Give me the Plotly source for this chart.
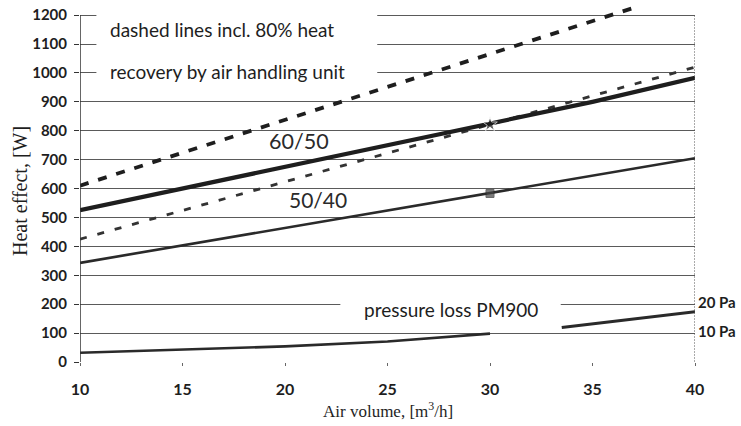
import plotly.graph_objects as go

# ---- data ----
air_volume = [10, 15, 20, 25, 30, 35, 40]
solid_6050 = [525, 600, 675, 750, 822, 900, 983]
solid_5040 = [343, 403, 463, 523, 583, 644, 705]

dash_6050_x = [10, 37]
dash_6050_y = [610, 1225]
dash_5040_x = [10, 40]
dash_5040_y = [425, 1020]

press_10pa_x = [10, 15, 20, 25, 30]
press_10pa_y = [32, 42, 54, 71, 98]
press_20pa_x = [33.5, 40]
press_20pa_y = [119, 174]

x_ticks = [10, 15, 20, 25, 30, 35, 40]
y_ticks = list(range(0, 1201, 100))

INK = "#1e1e1e"
GRID = "#5a5a5a"
SANS = "Lato, 'Open Sans', sans-serif"
SERIF = "'Liberation Serif', 'DejaVu Serif', serif"

fig = go.Figure()

def mark_sizes(xs, at, size):
    return [size if x == at else 0 for x in xs]

fig.add_trace(go.Scatter(x=dash_6050_x, y=dash_6050_y, mode="lines",
                         line=dict(color=INK, width=3.8, dash="9px,10px"), showlegend=False))
fig.add_trace(go.Scatter(x=dash_5040_x, y=dash_5040_y, mode="lines",
                         line=dict(color="#333", width=2.8, dash="7px,11px"), showlegend=False))
fig.add_trace(go.Scatter(x=air_volume, y=solid_6050, mode="lines+markers",
                         line=dict(color=INK, width=4.2),
                         marker=dict(symbol="star", color=INK, size=mark_sizes(air_volume, 30, 11)),
                         showlegend=False))
fig.add_trace(go.Scatter(x=air_volume, y=solid_5040, mode="lines+markers",
                         line=dict(color="#2a2a2a", width=2.6),
                         marker=dict(symbol="square", color="#444", size=mark_sizes(air_volume, 30, 8)),
                         showlegend=False))
fig.add_trace(go.Scatter(x=press_10pa_x, y=press_10pa_y, mode="lines",
                         line=dict(color="#2a2a2a", width=2.6), showlegend=False))
fig.add_trace(go.Scatter(x=press_20pa_x, y=press_20pa_y, mode="lines",
                         line=dict(color="#2a2a2a", width=3), showlegend=False))

shapes = [
    # white areas that interrupt the grid behind the texts
    dict(type="rect", xref="x", yref="y", x0=10.8, x1=24.5, y0=980, y1=1215,
         fillcolor="white", line=dict(width=0), layer="between"),
    dict(type="rect", xref="x", yref="y", x0=22.7, x1=33.45, y0=185, y1=215,
         fillcolor="white", line=dict(width=0), layer="between"),
    # left axis and right frame line
    dict(type="line", xref="x", yref="y", x0=10, x1=10, y0=0, y1=1200,
         line=dict(color="#333", width=1.5), layer="above"),
    dict(type="line", xref="x", yref="y", x0=40, x1=40, y0=0, y1=1200,
         line=dict(color="#555", width=1, dash="2px,1px"), layer="above"),
]

annotations = [
    dict(x=11.37, y=1150, xref="x", yref="y", text="dashed lines incl. 80% heat",
         showarrow=False, xanchor="left", yanchor="middle",
         font=dict(family=SANS, size=19, color=INK)),
    dict(x=11.37, y=1005, xref="x", yref="y", text="recovery by air handling unit",
         showarrow=False, xanchor="left", yanchor="middle",
         font=dict(family=SANS, size=19, color=INK)),
    dict(x=20.7, y=764, xref="x", yref="y", text="60/50", showarrow=False,
         font=dict(family=SANS, size=21.5, color="#2a2a2a")),
    dict(x=21.6, y=563, xref="x", yref="y", text="50/40", showarrow=False,
         font=dict(family=SANS, size=21, color="#2a2a2a")),
    dict(x=23.76, y=180, xref="x", yref="y", text="pressure loss PM900",
         showarrow=False, xanchor="left", yanchor="middle",
         font=dict(family=SANS, size=19, color=INK)),
    dict(x=40, y=206, xref="x", yref="y", text="20 Pa", showarrow=False,
         xanchor="left", yanchor="middle", xshift=1,
         font=dict(family=SANS, size=15, color=INK, weight="bold")),
    dict(x=40, y=108, xref="x", yref="y", text="10 Pa", showarrow=False,
         xanchor="left", yanchor="middle", xshift=1,
         font=dict(family=SANS, size=15, color=INK, weight="bold")),
    dict(x=20, y=191, xref="paper", yref="paper", text="Heat effect, [W]",
         showarrow=False, textangle=-90, xanchor="center", yanchor="middle",
         font=dict(family=SERIF, size=20, color=INK)),
    dict(x=388, y=410, xref="paper", yref="paper", text="Air volume, [m<sup>3</sup>/h]",
         showarrow=False, xanchor="center", yanchor="middle",
         font=dict(family=SERIF, size=17, color=INK)),
]

# convert pixel-placed axis titles to paper coords
W, H = 741, 426
L, R, T, B = 80, 46, 5, 64
for a in annotations[-2:]:
    px, py = a["x"], a["y"]
    a["x"] = (px - L) / (W - L - R)
    a["y"] = 1 - (py - T) / (H - T - B)

fig.update_layout(
    width=W, height=H,
    margin=dict(l=L, r=R, t=T, b=B),
    paper_bgcolor="white", plot_bgcolor="white",
    shapes=shapes, annotations=annotations,
    xaxis=dict(range=[10, 40], tickvals=x_ticks, ticktext=[str(v) for v in x_ticks],
               showgrid=False, zeroline=False, showline=False,
               ticks="outside", ticklen=3, tickcolor="#666",
               ticklabelstandoff=10,
               tickfont=dict(family=SANS, size=16, color=INK, weight="bold")),
    yaxis=dict(range=[0, 1235], tickvals=y_ticks, ticktext=[str(v) for v in y_ticks],
               showgrid=True, gridcolor=GRID, gridwidth=1,
               zeroline=False, showline=False,
               ticks="outside", ticklen=5, tickcolor="#333",
               ticklabelstandoff=4,
               tickfont=dict(family=SANS, size=15, color=INK, weight="bold")),
)

fig.write_html("out.html", config={"displayModeBar": False},
               post_script="document.body.style.margin='0';")
